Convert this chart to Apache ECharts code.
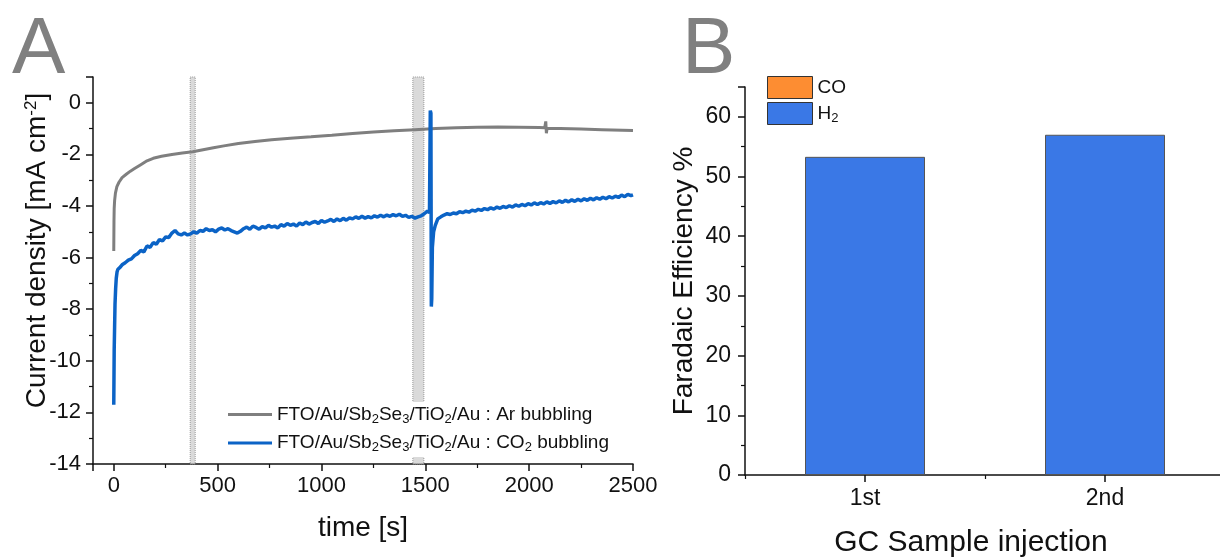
<!DOCTYPE html>
<html><head><meta charset="utf-8">
<script src="https://cdn.jsdelivr.net/npm/echarts@6/dist/echarts.min.js"></script>
<style>html,body{margin:0;padding:0;background:#fff}#c{width:1220px;height:557px}</style>
</head><body><div id="c"></div>
<script>
// ---------- Panel A data ----------
const arTime = [0,1,2,4,8,15,25,40,60,80,100,130,160,190,230,280,330,380,430,480,530,600,680,760,850,950,1050,1150,1250,1350,1450,1550,1650,1750,1850,1950,2050,2075,2080,2083,2086,2150,2250,2350,2450,2500];
const arCurrent = [-5.74,-4.6,-4.1,-3.8,-3.5,-3.25,-3.08,-2.9,-2.77,-2.65,-2.55,-2.4,-2.25,-2.15,-2.07,-2.0,-1.95,-1.9,-1.82,-1.74,-1.67,-1.58,-1.5,-1.43,-1.37,-1.32,-1.26,-1.19,-1.13,-1.08,-1.04,-1.0,-0.97,-0.95,-0.94,-0.95,-0.96,-0.97,-0.72,-1.18,-1.0,-1.0,-1.02,-1.04,-1.06,-1.07];

const co2Time = [0,2,4,6,9,12,16,20,30,40,55,70,85,100,115,130,145,160,175,190,205,220,235,250,265,280,295,310,325,340,355,370,385,400,415,430,445,460,475,490,505,520,535,550,565,580,595,610,625,640,655,670,685,700,715,730,745,760,775,790,805,820,835,850,865,880,895,910,925,940,955,970,985,1000,1015,1030,1045,1060,1075,1090,1105,1120,1135,1150,1165,1180,1195,1210,1225,1240,1255,1270,1285,1300,1315,1330,1345,1360,1375,1390,1405,1420,1435,1450,1465,1480,1495,1510,1520,1524,1527,1529,1531,1534,1540,1548,1560,1575,1590,1605,1620,1635,1650,1665,1680,1695,1710,1725,1740,1755,1770,1785,1800,1815,1830,1845,1860,1875,1890,1905,1920,1935,1950,1965,1980,1995,2010,2025,2040,2055,2070,2085,2100,2115,2130,2145,2160,2175,2190,2205,2220,2235,2250,2265,2280,2295,2310,2325,2340,2355,2370,2385,2400,2415,2430,2445,2460,2475,2490,2500];
const co2Current = [-11.7,-9.6,-8.7,-7.8,-7.2,-6.8,-6.55,-6.45,-6.38,-6.28,-6.2,-6.1,-6.05,-5.92,-5.85,-5.72,-5.78,-5.55,-5.6,-5.42,-5.48,-5.3,-5.35,-5.2,-5.22,-5.05,-4.95,-5.08,-5.12,-5.05,-5.12,-5.08,-5.0,-5.05,-4.95,-4.98,-4.88,-4.95,-4.92,-5.0,-4.9,-4.85,-4.93,-4.88,-4.95,-5.0,-5.05,-4.98,-4.88,-4.82,-4.9,-4.78,-4.83,-4.9,-4.8,-4.85,-4.75,-4.82,-4.78,-4.85,-4.72,-4.78,-4.68,-4.75,-4.7,-4.78,-4.66,-4.72,-4.62,-4.7,-4.64,-4.6,-4.68,-4.56,-4.63,-4.58,-4.52,-4.6,-4.5,-4.57,-4.48,-4.55,-4.46,-4.5,-4.42,-4.48,-4.4,-4.47,-4.41,-4.46,-4.38,-4.43,-4.36,-4.42,-4.35,-4.4,-4.33,-4.38,-4.32,-4.4,-4.36,-4.44,-4.4,-4.47,-4.42,-4.38,-4.3,-4.2,-4.25,-0.3,-0.4,-7.9,-7.6,-5.6,-5.0,-4.75,-4.5,-4.42,-4.35,-4.3,-4.33,-4.27,-4.3,-4.22,-4.26,-4.2,-4.24,-4.16,-4.2,-4.13,-4.17,-4.1,-4.14,-4.07,-4.12,-4.04,-4.09,-4.02,-4.06,-3.99,-4.04,-3.96,-4.01,-3.94,-3.99,-3.91,-3.96,-3.88,-3.94,-3.87,-3.92,-3.84,-3.9,-3.83,-3.88,-3.8,-3.86,-3.78,-3.84,-3.76,-3.82,-3.74,-3.8,-3.72,-3.78,-3.7,-3.76,-3.68,-3.74,-3.66,-3.72,-3.64,-3.69,-3.62,-3.67,-3.58,-3.64,-3.55,-3.6,-3.57];

const gcWindows = [[368, 392], [1440, 1493]];

// ---------- Panel B data ----------
const categories = ['1st', '2nd'];
const h2FE = [53.3, 57.0];
const coFE = [0, 0];

const FONT = 'Arial, "Liberation Sans", sans-serif';
const BLACK = '#111';
const pairs = (xs, ys) => xs.map((x, i) => [x, ys[i]]);

const subRich = (size, drop) => ({
  n: {fontSize: size, fontFamily: FONT, color: BLACK},
  s: {fontSize: Math.round(size * 0.68), fontFamily: FONT, color: BLACK, padding: [drop, 0, 0, 0]}
});

const legendNamesA = {
  Ar: '{n|FTO/Au/Sb}{s|2}{n|Se}{s|3}{n|/TiO}{s|2}{n|/Au : Ar bubbling}',
  CO2: '{n|FTO/Au/Sb}{s|2}{n|Se}{s|3}{n|/TiO}{s|2}{n|/Au : CO}{s|2}{n| bubbling}'
};
const legendNamesB = { CO: '{n|CO}', H2: '{n|H}{s|2}' };

const axisCommon = {
  axisLine: {show: true, onZero: false, lineStyle: {color: BLACK, width: 1.5}},
  axisTick: {show: true, inside: false, length: 7, lineStyle: {color: BLACK, width: 1.5}},
  minorTick: {show: true, splitNumber: 2, length: 4, lineStyle: {color: BLACK, width: 1.2}},
  splitLine: {show: false},
  axisLabel: {fontSize: 22, fontFamily: FONT, color: BLACK},
  nameTextStyle: {fontSize: 28, fontFamily: FONT, color: BLACK}
};

const option = {
  animation: false,
  textStyle: {fontFamily: FONT, color: BLACK},
  graphic: [
    {type: 'text', left: 12, top: 11, style: {text: 'A', fontSize: 80, fontFamily: FONT, fill: '#808080'}},
    {type: 'text', left: 682, top: 11, style: {text: 'B', fontSize: 80, fontFamily: FONT, fill: '#808080'}}
  ],
  grid: [
    {left: 93, top: 77, right: 587, bottom: 93, containLabel: false, outerBoundsMode: 'none'},
    {left: 745, top: 87, right: -5, bottom: 82, containLabel: false, outerBoundsMode: 'none'}
  ],
  legend: [
    {
      orient: 'vertical', left: 224, top: 402, itemWidth: 44, itemHeight: 3, itemGap: 8,
      icon: 'rect',
      backgroundColor: '#fff', padding: [3, 8, 3, 4],
      data: ['Ar', 'CO2'],
      formatter: (n) => legendNamesA[n],
      textStyle: {fontSize: 19, rich: subRich(19, 9)}
    },
    {
      orient: 'vertical', left: 762, top: 71, itemWidth: 45, itemHeight: 22, itemGap: 3,
      icon: 'rect',
      data: ['CO', 'H2'],
      formatter: (n) => legendNamesB[n],
      itemStyle: {borderColor: '#333', borderWidth: 1},
      textStyle: {fontSize: 19, rich: subRich(19, 9)}
    }
  ],
  xAxis: [
    Object.assign({}, axisCommon, {
      gridIndex: 0, type: 'value', min: -100, max: 2500, splitNumber: 5,
      name: 'time [s]', nameLocation: 'middle', nameGap: 50,
      axisLabel: Object.assign({}, axisCommon.axisLabel, {margin: 11,
        formatter: (v) => (v % 500 === 0 ? String(v) : '')})
    }),
    Object.assign({}, axisCommon, {
      gridIndex: 1, type: 'category', data: categories, boundaryGap: true,
      name: 'GC Sample injection', nameLocation: 'middle', nameGap: 53,
      nameTextStyle: {fontSize: 30, fontFamily: FONT, color: BLACK, padding: [0, 28, 0, 0]},
      axisTick: {show: true, alignWithLabel: true, length: 7, lineStyle: {color: BLACK, width: 1.5}},
      minorTick: {show: false},
      axisLabel: Object.assign({}, axisCommon.axisLabel, {margin: 12, fontSize: 23})
    }),
    {
      gridIndex: 1, type: 'category', data: categories, boundaryGap: true, position: 'bottom',
      axisLine: {show: false}, axisLabel: {show: false}, splitLine: {show: false},
      axisTick: {show: true, length: 4, lineStyle: {color: BLACK, width: 1.2}}
    }
  ],
  yAxis: [
    Object.assign({}, axisCommon, {
      gridIndex: 0, type: 'value', min: -14, max: 1, interval: 2,
      name: '{n|Current density [mA cm}{p|-2}{n|]}', nameLocation: 'middle', nameGap: 41,
      nameMoveOverlap: false,
      nameTextStyle: {fontSize: 28, fontFamily: FONT, color: BLACK, padding: [0, 0, 0, 40], rich: {
        n: {fontSize: 28, fontFamily: FONT, color: BLACK},
        p: {fontSize: 17, fontFamily: FONT, color: BLACK, padding: [0, 0, 12, 0]}
      }},
      axisLabel: Object.assign({}, axisCommon.axisLabel, {margin: 12,
        formatter: (v) => (v % 2 === 0 ? String(v) : '')})
    }),
    Object.assign({}, axisCommon, {
      gridIndex: 1, type: 'value', min: 0, max: 65, interval: 10,
      name: 'Faradaic Efficiency %', nameLocation: 'middle', nameGap: 47,
      axisLabel: Object.assign({}, axisCommon.axisLabel, {margin: 14, fontSize: 23,
        formatter: (v) => (v % 10 === 0 ? String(v) : '')})
    })
  ],
  series: [
    {
      name: 'Ar', type: 'line', xAxisIndex: 0, yAxisIndex: 0, data: pairs(arTime, arCurrent),
      symbol: 'none', lineStyle: {color: '#7f7f7f', width: 3}, itemStyle: {color: '#7f7f7f'},
      markArea: {
        silent: true,
        itemStyle: {color: 'rgba(205,205,205,0.75)', borderColor: '#999', borderWidth: 1, borderType: 'dotted'},
        data: gcWindows.map(w => [{xAxis: w[0]}, {xAxis: w[1]}])
      },
      z: 3
    },
    {
      name: 'CO2', type: 'line', xAxisIndex: 0, yAxisIndex: 0, data: pairs(co2Time, co2Current),
      symbol: 'none', lineStyle: {color: '#0b63c6', width: 3.5}, itemStyle: {color: '#0b63c6'}, z: 4
    },
    {
      name: 'H2', type: 'bar', xAxisIndex: 1, yAxisIndex: 1, stack: 'fe', data: h2FE, barWidth: '50%',
      itemStyle: {color: '#3a78e6', borderColor: '#555', borderWidth: 1}
    },
    {
      name: 'CO', type: 'bar', xAxisIndex: 1, yAxisIndex: 1, stack: 'fe', data: coFE, barWidth: '50%',
      itemStyle: {color: '#fd8d32', borderColor: '#555', borderWidth: 0}
    }
  ]
};

const chart = echarts.init(document.getElementById('c'), null, {renderer: 'canvas'});
chart.setOption(option);
</script>
</body></html>
